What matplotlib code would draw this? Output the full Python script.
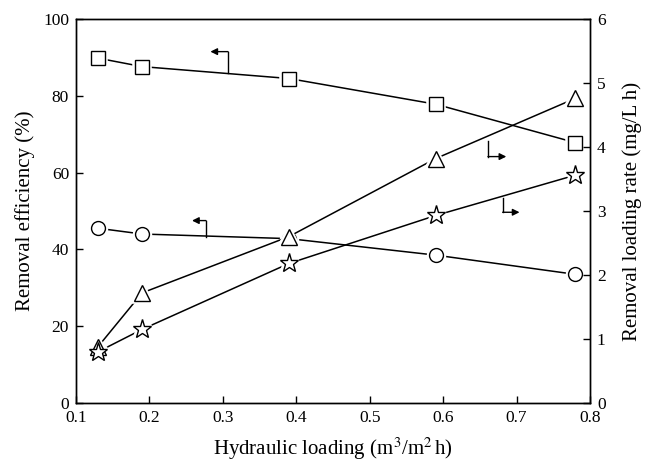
import numpy as np
import matplotlib.pyplot as plt

plt.rcParams["font.family"] = ["Liberation Serif", "DejaVu Serif"]
plt.rcParams["mathtext.fontset"] = "stix"

# data
loading = [0.13, 0.19, 0.39, 0.59, 0.78]
eff_square = [89.8, 87.6, 84.5, 77.8, 67.8]     # left axis, %
eff_circle = [45.5, 44.0, 42.8, 38.5, 33.5]     # left axis, %
rate_triangle = [0.88, 1.72, 2.60, 3.82, 4.76]  # right axis, mg/L h
rate_star = [0.80, 1.15, 2.18, 2.93, 3.56]      # right axis, mg/L h

fig = plt.figure(figsize=(6.61, 4.70), dpi=100)
ax = fig.add_axes([0.115, 0.1426, 0.7776, 0.817])
ax2 = ax.twinx()


def draw(a, x, y, marker, ms):
    a.plot(x, y, color="black", lw=1.1, zorder=2)
    # white halo so the line stops short of the marker
    a.plot(x, y, ls="none", marker=marker, ms=ms, mfc="white", mec="white", mew=4, zorder=3)
    a.plot(x, y, ls="none", marker=marker, ms=ms, mfc="white", mec="black", mew=1.0, zorder=4)


draw(ax, loading, eff_square, "s", 9.5)
draw(ax, loading, eff_circle, "o", 10)
draw(ax2, loading, rate_triangle, "^", 11)
draw(ax2, loading, rate_star, "*", 14)


def arrow(a, x0, y0, y1, x1):
    a.plot([x0, x0], [y0, y1], color="black", lw=1.0, zorder=2)
    a.annotate("", xy=(x1, y1), xytext=(x0, y1),
               arrowprops=dict(arrowstyle="-|>", color="black", lw=1.0,
                               mutation_scale=10, shrinkA=0, shrinkB=0))


arrow(ax, 0.307, 86.0, 91.5, 0.283)
arrow(ax, 0.277, 43.2, 47.5, 0.258)
arrow(ax2, 0.661, 4.10, 3.85, 0.686)
arrow(ax2, 0.681, 3.20, 2.98, 0.704)

ax.set_xlim(0.1, 0.8)
ax.set_ylim(0, 100)
ax2.set_ylim(0, 6)
ax.set_xticks(np.arange(0.1, 0.81, 0.1))
ax.set_xticklabels(["0.1", "0.2", "0.3", "0.4", "0.5", "0.6", "0.7", "0.8"])
ax.set_yticks([0, 20, 40, 60, 80, 100])
ax2.set_yticks([0, 1, 2, 3, 4, 5, 6])

for a in (ax, ax2):
    a.tick_params(direction="in", length=5, width=1.0, labelsize=12.5, pad=5)
    for s in a.spines.values():
        s.set_linewidth(1.0)

ax.set_xlabel("Hydraulic loading (m$^3$/m$^2\\,$h)", fontsize=15, labelpad=7)
ax.set_ylabel("Removal efficiency (%)", fontsize=15, labelpad=6)
ax2.set_ylabel("Removal loading rate (mg/L h)", fontsize=15, labelpad=12)

fig.savefig("out.png", dpi=100)
